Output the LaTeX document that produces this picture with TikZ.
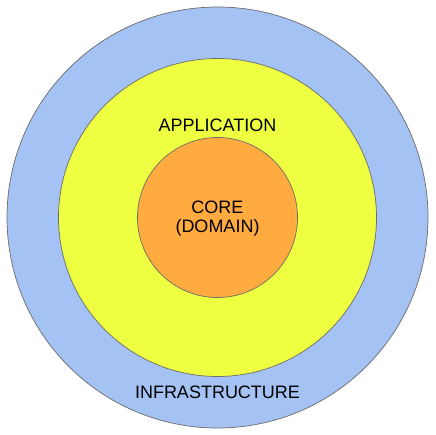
\documentclass[tikz,border=0pt]{standalone}
\usepackage{fontspec}
\setmainfont{Liberation Sans}

\definecolor{infrablue}{HTML}{A4C2F4}
\definecolor{applime}{HTML}{EEFF41}
\definecolor{coreorange}{HTML}{FFAB40}
\definecolor{ringedge}{HTML}{6B6B6B}

\tikzset{
  ring/.style={draw=ringedge,line width=0.7pt,circle,inner sep=0pt},
  ringlabel/.style={font=\fontsize{18}{20}\selectfont,anchor=base,inner sep=0pt}
}

\begin{document}
\begin{tikzpicture}[x=1pt,y=1pt]
  \useasboundingbox (-217.5,-217.5) rectangle (217.5,217.5);

  % layers, outside in
  \node[ring,fill=infrablue,minimum size=421pt] (infra) at (0,0) {};
  \node[ring,fill=applime,minimum size=318pt] (app) at (0,0) {};
  \node[ring,fill=coreorange,minimum size=160pt] (core) at (0,0) {};

  % labels
  \node[ringlabel] (applabel) at (0,85.8) {APPLICATION};
  \node[ringlabel] (corelabel) at (0,4.2) {CORE};
  \node[ringlabel] (domainlabel) at (0,-15.5) {(DOMAIN)};
  \node[ringlabel] (infralabel) at (0,-180.8) {INFRASTRUCTURE};
\end{tikzpicture}
\end{document}
